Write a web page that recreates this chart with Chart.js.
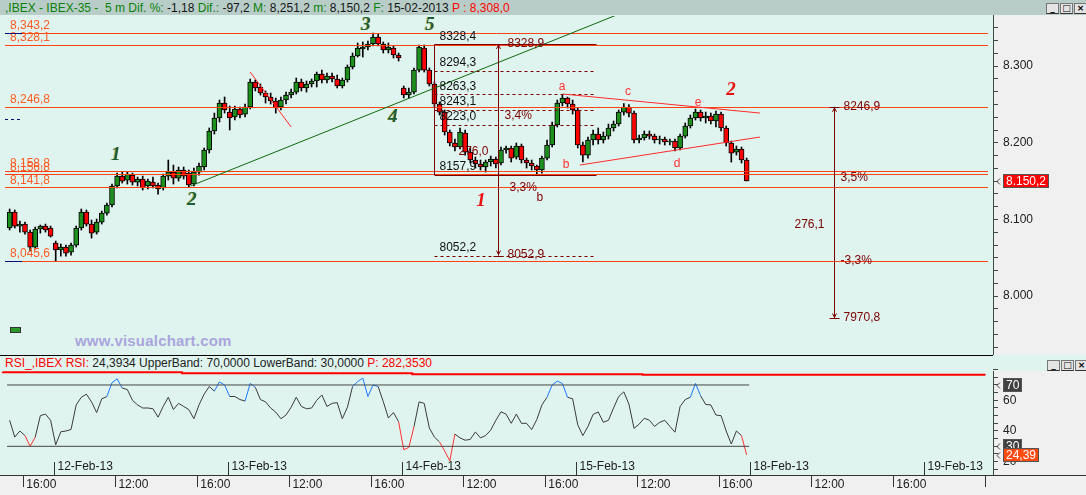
<!DOCTYPE html>
<html>
<head>
<meta charset="utf-8">
<title>IBEX-35 5m</title>
<script src="https://cdn.jsdelivr.net/npm/chart.js@4.4.1/dist/chart.umd.min.js"></script>
<style>
  html, body { margin: 0; padding: 0; }
  body {
    position: relative; width: 1086px; height: 495px; overflow: hidden;
    background: #e0f4ef;
    font-family: "Liberation Sans Narrow", "Liberation Sans", Arial, sans-serif; font-size: 12px;
  }
  .abs { position: absolute; }
  #topbar { left: 0; top: 0; width: 1086px; height: 15px; background: #b9cdc8; }
  #title { left: 5px; top: 1px; line-height: 14px; white-space: nowrap; color: #0a820a; }
  #title .v { color: #151515; }
  #title .r { color: #ff0000; }
  #mainAxisBg { left: 993px; top: 15px; width: 93px; height: 340px; background: #f0f0f0; border-left: 1px solid #3c4c48; box-sizing: border-box; }
  #sep { left: 0; top: 355px; width: 993px; height: 1px; background: #000; }
  #rsiAxisBg { left: 993px; top: 371px; width: 93px; height: 104px; background: #f0f0f0; border-left: 1px solid #3c4c48; box-sizing: border-box; }
  #timeBg { left: 0; top: 475px; width: 1086px; height: 20px; background: #f0f0f0; border-top: 1px solid #333; box-sizing: border-box; }
  #rsiTitle { left: 5px; top: 357px; line-height: 13px; white-space: nowrap; color: #222; }
  #rsiTitle .r { color: #ff0000; }
  .btns { display: flex; gap: 1px; }
  .btn { width: 11px; height: 9px; border: 1px solid #777; border-bottom-color: #333; background: #e4e4e4;
         font: bold 9px "DejaVu Sans", sans-serif; line-height: 9px; text-align: center; color: #000; }
  #watermark { left: 75px; top: 332px; color: #aba5dd; font: bold 15px "Liberation Sans", Arial, sans-serif; letter-spacing: 0.2px; }
  #icon { left: 10px; top: 327px; width: 9px; height: 4px; background: #2a9a2a; border: 1px solid #333; }
  canvas { position: absolute; left: 0; }
  #main { top: 15px; }
  #rsi { top: 356px; }
</style>
</head>
<body>
<div id="topbar" class="abs"></div>
<div id="title" class="abs">,IBEX - IBEX-35 -&nbsp; 5 m Dif. %: <span class="v">-1,18</span> Dif.: <span class="v">-97,2</span> M: <span class="v">8,251,2</span> m: <span class="v">8,150,2</span> F: <span class="v">15-02-2013</span> <span class="r">P : 8,308,0</span></div>
<div class="abs btns" style="left:1046px;top:3px"><div class="btn">_</div><div class="btn">□</div><div class="btn">×</div></div>
<div id="mainAxisBg" class="abs"></div>
<div id="sep" class="abs"></div>
<div id="rsiAxisBg" class="abs"></div>
<div id="timeBg" class="abs"></div>
<div id="rsiTitle" class="abs"><span class="r">RSI_,IBEX RSI:</span> 24,3934 UpperBand: 70,0000 LowerBand: 30,0000 <span class="r">P: 282,3530</span></div>
<div class="abs btns" style="left:1047px;top:360px"><div class="btn">_</div><div class="btn">□</div><div class="btn">×</div></div>
<div id="watermark" class="abs">www.visualchart.com</div>
<div id="icon" class="abs"></div>

<canvas id="main" width="1086" height="341"></canvas>
<canvas id="rsi" width="1086" height="139"></canvas>

<script>
// 足の位置: 12-Feb 09:00 = 0、5分ごとに +1 (1日 = 102本)
const firstCandleBar = -26;   // 11-Feb 15:15 の15分足の中心
const candleStep = 3;         // 15分足

// 15分足 OHLC (11-Feb 15:15 〜 15-Feb 17:30)
const opens = [
  8088.8, 8109.6, 8091.4, 8094.0, 8083.5, 8064.0, 8087.5, 8091.4, 8088.8, 8069.2,
  8060.1, 8064.0, 8057.4, 8066.6, 8088.8, 8109.6, 8094.0, 8083.5, 8096.6, 8108.3,
  8118.8, 8143.6, 8156.6, 8151.4, 8157.9, 8148.8, 8152.7, 8143.6, 8148.8, 8144.9,
  8141.0, 8156.6, 8161.8, 8154.0, 8164.5, 8160.5, 8146.2, 8161.8, 8168.4, 8190.6,
  8215.4, 8232.3, 8251.9, 8240.1, 8233.6, 8244.1, 8237.5, 8246.7, 8279.3, 8272.8,
  8264.9, 8259.7, 8254.5, 8246.7, 8255.8, 8262.3, 8266.2, 8279.3, 8271.5, 8276.7,
  8280.6, 8289.7, 8281.9, 8287.1, 8283.2, 8274.1, 8281.9, 8298.9, 8313.2, 8322.4,
  8325.0, 8328.9, 8338.0, 8328.9, 8321.1, 8323.7, 8314.5, 8271.5, 8262.3, 8266.2,
  8294.9, 8323.7, 8294.9, 8276.7, 8250.6, 8240.1, 8214.1, 8199.7, 8194.5, 8212.7,
  8187.9, 8177.5, 8172.3, 8168.4, 8174.9, 8178.8, 8173.6, 8190.6, 8193.2, 8181.4,
  8195.8, 8177.5, 8173.6, 8169.7, 8164.5, 8180.1, 8197.1, 8223.2, 8251.9, 8258.4,
  8250.6, 8242.8, 8197.1, 8184.0, 8203.6, 8211.4, 8203.6, 8208.8, 8219.3, 8224.5,
  8240.1, 8246.7, 8238.8, 8203.6, 8206.2, 8211.4, 8208.8, 8203.6, 8204.9, 8201.0,
  8202.3, 8193.2, 8208.8, 8221.9, 8232.3, 8240.1, 8232.3, 8234.9, 8228.4, 8237.5,
  8219.3, 8199.7, 8187.9, 8191.9, 8177.5
];
const highs = [
  8113.6, 8112.3, 8097.9, 8096.6, 8086.2, 8090.1, 8092.7, 8094.0, 8091.4, 8071.8,
  8067.9, 8066.6, 8069.2, 8091.4, 8113.6, 8112.3, 8099.2, 8100.5, 8111.0, 8121.4,
  8146.2, 8160.5, 8161.8, 8161.8, 8160.5, 8155.3, 8156.6, 8152.7, 8155.3, 8147.5,
  8159.2, 8177.5, 8171.0, 8168.4, 8168.4, 8164.5, 8167.1, 8173.6, 8193.2, 8219.3,
  8238.8, 8255.8, 8259.7, 8248.0, 8248.0, 8246.7, 8250.6, 8283.2, 8281.9, 8276.7,
  8267.6, 8264.9, 8258.4, 8259.7, 8266.2, 8270.2, 8284.5, 8283.2, 8280.6, 8283.2,
  8292.3, 8294.9, 8291.0, 8291.0, 8288.4, 8284.5, 8301.5, 8317.1, 8330.2, 8331.5,
  8332.8, 8343.2, 8341.9, 8331.5, 8330.2, 8326.3, 8317.1, 8274.1, 8271.5, 8297.6,
  8327.6, 8327.6, 8297.6, 8279.3, 8253.2, 8242.8, 8216.7, 8204.9, 8219.3, 8216.7,
  8193.2, 8181.4, 8177.5, 8177.5, 8182.7, 8181.4, 8194.5, 8195.8, 8195.8, 8199.7,
  8198.4, 8180.1, 8177.5, 8171.0, 8182.7, 8203.6, 8227.1, 8255.8, 8263.3, 8259.7,
  8255.8, 8245.4, 8201.0, 8207.5, 8216.7, 8219.3, 8214.1, 8224.5, 8228.4, 8242.8,
  8251.2, 8250.0, 8241.4, 8210.1, 8215.4, 8215.4, 8211.4, 8208.8, 8207.5, 8204.9,
  8204.9, 8211.4, 8225.8, 8236.2, 8244.1, 8242.8, 8240.1, 8238.8, 8241.4, 8240.1,
  8221.9, 8202.3, 8195.8, 8194.5, 8180.1
];
const lows = [
  8086.2, 8088.8, 8083.5, 8080.9, 8058.8, 8061.4, 8082.2, 8083.5, 8077.0, 8045.6,
  8052.2, 8052.2, 8053.5, 8064.0, 8086.2, 8091.4, 8075.7, 8080.9, 8094.0, 8105.7,
  8116.2, 8141.0, 8147.5, 8146.2, 8144.9, 8143.6, 8138.4, 8139.7, 8141.0, 8133.1,
  8138.4, 8151.4, 8146.2, 8150.1, 8152.7, 8142.3, 8143.6, 8157.9, 8164.5, 8186.6,
  8211.4, 8227.1, 8238.8, 8216.7, 8229.7, 8232.3, 8233.6, 8244.1, 8267.6, 8262.3,
  8251.9, 8250.6, 8238.8, 8242.8, 8250.6, 8258.4, 8263.6, 8267.6, 8266.2, 8272.8,
  8272.8, 8278.0, 8278.0, 8279.3, 8271.5, 8271.5, 8279.3, 8296.3, 8311.9, 8311.9,
  8321.1, 8326.3, 8326.3, 8317.1, 8317.1, 8310.6, 8306.7, 8258.4, 8258.4, 8263.6,
  8292.3, 8292.3, 8274.1, 8246.7, 8236.2, 8210.1, 8195.8, 8189.3, 8191.9, 8184.0,
  8173.6, 8167.1, 8164.5, 8161.8, 8169.7, 8167.1, 8171.0, 8186.6, 8174.9, 8178.8,
  8173.6, 8167.1, 8164.5, 8157.9, 8160.5, 8177.5, 8194.5, 8220.6, 8248.0, 8245.4,
  8237.5, 8193.2, 8174.9, 8180.1, 8197.1, 8198.4, 8199.7, 8204.9, 8215.4, 8221.9,
  8236.2, 8233.6, 8199.7, 8199.7, 8203.6, 8204.9, 8199.7, 8198.4, 8197.1, 8197.1,
  8189.3, 8190.6, 8206.2, 8219.3, 8229.7, 8228.4, 8225.8, 8224.5, 8220.6, 8215.4,
  8195.8, 8174.9, 8184.0, 8173.6, 8150.2
];
const closes = [
  8109.6, 8091.4, 8094.0, 8083.5, 8064.0, 8087.5, 8091.4, 8086.2, 8078.3, 8060.1,
  8064.0, 8056.1, 8066.6, 8088.8, 8109.6, 8094.0, 8082.2, 8096.6, 8108.3, 8118.8,
  8143.6, 8156.6, 8150.1, 8159.2, 8148.8, 8152.7, 8141.0, 8150.1, 8143.6, 8139.7,
  8156.6, 8161.8, 8154.0, 8164.5, 8156.6, 8144.9, 8161.8, 8169.7, 8190.6, 8215.4,
  8232.3, 8251.9, 8242.8, 8232.3, 8244.1, 8236.2, 8246.7, 8279.3, 8271.5, 8264.9,
  8259.7, 8254.5, 8245.4, 8255.8, 8262.3, 8266.2, 8279.3, 8271.5, 8276.7, 8280.6,
  8289.7, 8281.9, 8287.1, 8283.2, 8274.1, 8281.9, 8298.9, 8313.2, 8323.7, 8325.0,
  8328.9, 8338.0, 8328.9, 8321.1, 8325.0, 8314.5, 8310.6, 8262.3, 8266.2, 8294.9,
  8325.0, 8294.9, 8276.7, 8250.6, 8240.1, 8214.1, 8199.7, 8194.5, 8214.1, 8187.9,
  8177.5, 8172.3, 8168.4, 8174.9, 8178.8, 8172.3, 8190.6, 8193.2, 8180.1, 8195.8,
  8177.5, 8173.6, 8169.7, 8164.5, 8180.1, 8197.1, 8223.2, 8251.9, 8258.4, 8250.6,
  8242.8, 8197.1, 8184.0, 8203.6, 8211.4, 8203.6, 8208.8, 8219.3, 8224.5, 8240.1,
  8246.7, 8238.8, 8203.6, 8206.2, 8211.4, 8208.8, 8203.6, 8204.9, 8201.0, 8202.3,
  8193.2, 8208.8, 8221.9, 8232.3, 8240.1, 8232.3, 8234.9, 8228.4, 8237.5, 8219.3,
  8199.7, 8186.6, 8191.9, 8177.5, 8150.2
];

// RSI (同じ15分足の位置)
const rsiValues = [
  47, 36, 40, 37, 30, 36, 50, 51, 47, 31,
  39.5, 40, 41, 57, 62, 64, 59, 52, 61, 62.4,
  71.5, 74, 68, 67, 60, 57, 55, 55, 54.5, 49,
  56, 62, 54, 58, 56, 54, 48, 57, 64, 69,
  66, 72, 70, 62.5, 62.5, 60.5, 59.5, 71, 68.5, 60.5,
  59, 55, 52.3, 48, 50.4, 55.5, 62, 56, 54.5, 55,
  60, 63.5, 56, 58, 58.5, 48, 55.5, 69, 72.2, 74.5,
  62.5, 70, 69, 59.2, 48.5, 52, 46, 27.8, 29.3, 42.8,
  59, 58, 42, 36, 32.8, 27, 20.5, 38, 35.5, 34,
  34.5, 39.4, 35.5, 37, 40.6, 47, 52.5, 51, 45, 51,
  45, 45, 40.9, 47.5, 57, 62, 70, 72.5, 71, 62,
  61, 44, 37, 43, 50.8, 52.4, 45.7, 47, 55, 62.5,
  65.5, 57.5, 41.7, 44.5, 48.3, 47, 43, 45.6, 47, 43,
  39.2, 56, 60.5, 62, 71, 63, 57.3, 57, 50.4, 50,
  40, 31.5, 40, 37, 24.39
];
const rsiBands = [70, 30];
// RSIパネル上部の赤い段差ライン
const stepLineBars = [-30, 75, 210, 345, 480, 546];
const stepLineValues = [78.7, 78.3, 77.7, 77.0, 76.6, 76.6];

// 時間軸
const dayStartBars = [0, 102, 204, 306, 408, 510];
const dayLabels = ['12-Feb-13', '13-Feb-13', '14-Feb-13', '15-Feb-13', '18-Feb-13', '19-Feb-13'];
const hourTickBars = [-18, 36, 84, 138, 186, 240, 288, 342, 390, 444, 492, 546];
const hourTickLabels = ['16:00', '12:00', '16:00', '12:00', '16:00', '12:00', '16:00', '12:00', '16:00', '12:00', '16:00', ''];
const priceLabelTicks = [8000, 8100, 8200, 8300];
const rsiLabelTicks = [20, 40, 60];

// 水平ライン
const levelValues = [8343.2, 8328.1, 8246.8, 8163.3, 8158.8, 8141.8, 8045.6];
const levelLabels = ['8,343,2', '8,328,1', '8,246,8', '8,158,8', '8,156,8', '8,141,8', '8,045,6'];

// フィボナッチ (8328,4 → 8157,9)
const fibBars = [223, 318];
const fibHigh = 8328.4;
const fibLow = 8157.9;
const fibLevels = [8294.3, 8263.3, 8243.1, 8223.0];
const fibExtension = 8052.2;

// 値幅計測
const measures = [
  { bar: 260, from: 8328.9, to: 8052.9,
    notes: [['3,4%', 8236, 6], ['276,0', 8188, -40], ['3,3%', 8142, 11], ['b', 8128, 38]] },
  { bar: 457, from: 8246.9, to: 7970.8,
    notes: [['3,5%', 8154, 6], ['276,1', 8093, -40], ['-3,3%', 8046, 6]] }
];

// トレンドライン・三角保ち合い
const trendLine = [[80, 8143.6], [329, 8366]];
const flagLine = [[115, 8292.3], [139, 8220.6]];
const triangleUpper = [[298.4, 8263.6], [413.8, 8238.8]];
const triangleLower = [[308.3, 8171.0], [413.8, 8207.5]];
const triangleLetters = [['a', 297.8, 8272.8], ['b', 300.1, 8171.0], ['c', 336.5, 8266.2], ['d', 365.2, 8172.3], ['e', 377.5, 8251.9]];

// 波動カウント
const waveLabels = [
  ['1', 36.3, 8184, 'g'], ['2', 80.9, 8125.3, 'g'], ['3', 182.9, 8353.7, 'g'],
  ['4', 198.7, 8233.6, 'g'], ['5', 220.4, 8353.7, 'g'],
  ['1', 250.3, 8124.0, 'r'], ['2', 396.8, 8269.0, 'r']
];

const xMin = -31.65;
const xMax = 550.4;
const UI_FONT = '12px "Liberation Sans Narrow", "Liberation Sans", Arial, sans-serif';

Chart.defaults.font.family = '"Liberation Sans Narrow", "Liberation Sans", Arial, sans-serif';
Chart.defaults.font.size = 12;
Chart.defaults.color = '#202020';

const candleBar = i => firstCandleBar + i * candleStep;
const commaDec = v => v.toFixed(1).replace('.', ',');
const priceText = v => { const s = commaDec(v); return s.slice(0, 1) + '.' + s.slice(1); };

// 軸の幅を固定し、ラベル分の余白を消す
const fixAxis = (w, h) => s => {
  if (w) s.width = w;
  if (h) s.height = h;
  s.paddingTop = 0; s.paddingBottom = 0; s.paddingLeft = 0; s.paddingRight = 0;
};

function line(ctx, x1, y1, x2, y2) {
  ctx.beginPath(); ctx.moveTo(x1, y1); ctx.lineTo(x2, y2); ctx.stroke();
}
function hline(ctx, x1, x2, y) {
  const yy = Math.round(y) + 0.5;
  line(ctx, x1, yy, x2, yy);
}
function axisBox(ctx, left, y, text, bg, fg) {
  ctx.font = UI_FONT;
  const w = Math.ceil(ctx.measureText(text).width) + 5;
  const top = Math.round(y) - 7;
  ctx.fillStyle = bg;
  ctx.fillRect(left, top, w, 14);
  ctx.strokeStyle = '#555';
  ctx.lineWidth = 1;
  ctx.strokeRect(left + 0.5, top + 0.5, w - 1, 13);
  ctx.fillStyle = fg;
  ctx.textAlign = 'left';
  ctx.textBaseline = 'middle';
  ctx.fillText(text, left + 3, top + 7.5);
  // 小さな矢印
  ctx.strokeStyle = '#444';
  const yy = Math.round(y) + 0.5;
  line(ctx, left - 3, yy - 3, left - 6, yy);
  line(ctx, left - 6, yy, left - 3, yy + 3);
}

// 価格チャート上の注記
const mainNotes = {
  id: 'mainNotes',
  afterDatasetsDraw(chart) {
    const { ctx, chartArea: a } = chart;
    const X = b => chart.scales.x.getPixelForValue(b);
    const Y = v => chart.scales.y.getPixelForValue(v);
    ctx.save();
    ctx.beginPath();
    ctx.rect(a.left, a.top, a.right - a.left, a.bottom - a.top);
    ctx.clip();
    ctx.font = UI_FONT;
    ctx.textAlign = 'left';
    ctx.textBaseline = 'middle';
    ctx.lineWidth = 1;

    // 水平ライン
    levelValues.forEach((v, i) => {
      ctx.strokeStyle = '#ff4412';
      hline(ctx, a.left + 5, a.right - 5, Y(v));
      ctx.fillStyle = '#ff5a22';
      ctx.fillText(levelLabels[i], a.left + 10, Y(v) - 7);
    });
    // 左端の紺色マーク
    ctx.strokeStyle = '#00107a';
    hline(ctx, a.left + 5, a.left + 22, Y(levelValues[0]));
    hline(ctx, a.left + 5, a.left + 22, Y(levelValues[6]));
    ctx.setLineDash([3, 3]);
    hline(ctx, a.left + 5, a.left + 22, Y(8231));
    ctx.setLineDash([]);

    // トレンドライン
    ctx.strokeStyle = '#0d6a0d';
    line(ctx, X(trendLine[0][0]), Y(trendLine[0][1]), X(trendLine[1][0]), Y(trendLine[1][1]));
    ctx.strokeStyle = '#ff2a2a';
    line(ctx, X(flagLine[0][0]), Y(flagLine[0][1]), X(flagLine[1][0]), Y(flagLine[1][1]));

    // フィボナッチ
    const fx1 = Math.round(X(fibBars[0])) + 0.5, fx2 = X(fibBars[1]);
    ctx.strokeStyle = '#7a0000';
    hline(ctx, fx1, fx2, Y(fibHigh));
    hline(ctx, fx1, fx2, Y(fibLow));
    line(ctx, fx1, Y(fibHigh), fx1, Y(fibLow));
    ctx.setLineDash([3, 3]);
    fibLevels.concat([fibExtension]).forEach(v => hline(ctx, fx1, fx2, Y(v)));
    ctx.setLineDash([]);
    ctx.fillStyle = '#111';
    [fibHigh].concat(fibLevels, [fibLow, fibExtension]).forEach(v => {
      ctx.fillText(commaDec(v), fx1 + 5, Y(v) - 8);
    });

    // 値幅計測
    measures.forEach(m => {
      const mx = Math.round(X(m.bar)) + 0.5;
      const y1 = Y(m.from), y2 = Y(m.to);
      ctx.strokeStyle = '#7a0000';
      line(ctx, mx, y1, mx, y2);
      hline(ctx, mx - 5, mx + 5, y1);
      hline(ctx, mx - 5, mx + 5, y2);
      line(ctx, mx - 2, y1 + 5, mx, y1 + 1);
      line(ctx, mx + 2, y1 + 5, mx, y1 + 1);
      line(ctx, mx - 2, y2 - 5, mx, y2 - 1);
      line(ctx, mx + 2, y2 - 5, mx, y2 - 1);
      ctx.fillStyle = '#7a0000';
      ctx.fillText(commaDec(m.from), mx + 9, y1);
      ctx.fillText(commaDec(m.to), mx + 9, y2 - 1);
      m.notes.forEach(n => ctx.fillText(n[0], mx + n[2], Y(n[1])));
    });

    // 三角保ち合い
    ctx.strokeStyle = '#ff2a2a';
    line(ctx, X(triangleUpper[0][0]), Y(triangleUpper[0][1]), X(triangleUpper[1][0]), Y(triangleUpper[1][1]));
    line(ctx, X(triangleLower[0][0]), Y(triangleLower[0][1]), X(triangleLower[1][0]), Y(triangleLower[1][1]));
    ctx.fillStyle = '#ff3030';
    ctx.textAlign = 'center';
    triangleLetters.forEach(t => ctx.fillText(t[0], X(t[1]), Y(t[2])));

    // 波動カウント
    ctx.font = 'bold italic 19px "Liberation Serif", "DejaVu Serif", serif';
    waveLabels.forEach(w => {
      const wx = X(w[1]), wy = Y(w[2]);
      if (w[3] === 'g') {
        ctx.fillStyle = '#c8b040';
        ctx.fillText(w[0], wx - 1, wy);
        ctx.fillStyle = '#1b5e3e';
      } else {
        ctx.fillStyle = '#e81010';
      }
      ctx.fillText(w[0], wx, wy);
    });
    ctx.restore();
  },
  afterDraw(chart) {
    const a = chart.chartArea;
    const last = closes[closes.length - 1];
    chart.ctx.save();
    axisBox(chart.ctx, a.right + 10, chart.scales.y.getPixelForValue(last), priceText(last), '#ff0000', '#ffffff');
    chart.ctx.restore();
  }
};

// 価格の補助目盛 (100 を 6 分割)
const priceTickValues = [];
for (let k = -4; k <= 21; k++) priceTickValues.push(8000 + k * 100 / 6);

new Chart(document.getElementById('main'), {
  type: 'bar',
  data: {
    datasets: [
      {
        label: 'wick',
        data: highs.map((h, i) => ({ x: candleBar(i), y: [lows[i], h] })),
        backgroundColor: '#000',
        barThickness: 1,
        grouped: false,
        order: 2
      },
      {
        label: 'body',
        data: opens.map((o, i) => ({ x: candleBar(i), y: [o, closes[i]] })),
        backgroundColor: opens.map((o, i) => closes[i] >= o ? '#1c8f1c' : '#ff0000'),
        borderColor: '#000',
        borderWidth: 1,
        borderSkipped: false,
        barThickness: 5,
        grouped: false,
        order: 1
      }
    ]
  },
  options: {
    responsive: false,
    animation: false,
    devicePixelRatio: 1,
    layout: { padding: { top: 1, bottom: 4, left: 0, right: 0 }, autoPadding: false },
    plugins: { legend: { display: false }, tooltip: { enabled: false } },
    scales: {
      x: { type: 'linear', min: xMin, max: xMax, display: false, offset: false },
      y: {
        position: 'right',
        min: 7927.1,
        max: 8365.4,
        afterFit: fixAxis(93, 0),
        afterBuildTicks: s => { s.ticks = priceTickValues.map(v => ({ value: v })); },
        grid: { drawOnChartArea: false, tickLength: 5, tickColor: '#3c4c48' },
        border: { display: false },
        ticks: {
          autoSkip: false,
          padding: 5,
          color: '#202020',
          callback: v => priceLabelTicks.some(p => Math.abs(p - v) < 0.01) ? (v / 1000).toFixed(3) : ''
        }
      }
    }
  },
  plugins: [mainNotes]
});

// RSI パネル
const rsiNotes = {
  id: 'rsiNotes',
  afterDraw(chart) {
    const { ctx, chartArea: a } = chart;
    const xs = chart.scales.x, ys = chart.scales.y;
    ctx.save();
    ctx.font = UI_FONT;
    ctx.textAlign = 'left';
    ctx.textBaseline = 'middle';
    ctx.strokeStyle = '#333';
    ctx.fillStyle = '#202020';
    ctx.lineWidth = 1;
    dayStartBars.forEach((b, i) => {
      const dx = Math.round(xs.getPixelForValue(b)) + 0.5;
      line(ctx, dx, a.bottom - 13, dx, a.bottom);
      ctx.fillText(dayLabels[i], dx + 3, a.bottom - 8);
    });
    axisBox(ctx, a.right + 10, ys.getPixelForValue(rsiBands[0]), '70', '#404040', '#ffffff');
    axisBox(ctx, a.right + 10, ys.getPixelForValue(rsiBands[1]), '30', '#404040', '#ffffff');
    const last = rsiValues[rsiValues.length - 1];
    axisBox(ctx, a.right + 10, ys.getPixelForValue(last), last.toFixed(2).replace('.', ','), '#ff4a12', '#ffffff');
    ctx.restore();
  }
};

const bandStart = candleBar(0) - 1.5;
const bandEnd = candleBar(rsiValues.length - 1) + 1.5;

new Chart(document.getElementById('rsi'), {
  type: 'line',
  data: {
    datasets: [
      {
        label: 'P',
        data: stepLineBars.map((b, i) => ({ x: b, y: stepLineValues[i] })),
        borderColor: '#ff0000',
        borderWidth: 2,
        stepped: 'after',
        pointRadius: 0
      },
      ...rsiBands.map(v => ({
        label: 'band ' + v,
        data: [{ x: bandStart, y: v }, { x: bandEnd, y: v }],
        borderColor: '#454545',
        borderWidth: 1,
        pointRadius: 0
      })),
      {
        label: 'RSI',
        data: rsiValues.map((v, i) => ({ x: candleBar(i), y: v })),
        borderColor: '#3a3a3a',
        borderWidth: 1,
        pointRadius: 0,
        tension: 0,
        segment: {
          borderColor: c => {
            const hi = Math.max(c.p0.parsed.y, c.p1.parsed.y);
            const lo = Math.min(c.p0.parsed.y, c.p1.parsed.y);
            if (hi >= rsiBands[0]) return '#1a78ff';
            if (lo <= rsiBands[1]) return '#ff3030';
            return '#3a3a3a';
          }
        }
      }
    ]
  },
  options: {
    responsive: false,
    animation: false,
    devicePixelRatio: 1,
    layout: { padding: 0, autoPadding: false },
    plugins: { legend: { display: false }, tooltip: { enabled: false } },
    scales: {
      x: {
        type: 'linear',
        min: xMin,
        max: xMax,
        offset: false,
        afterFit: fixAxis(0, 20),
        afterBuildTicks: s => { s.ticks = hourTickBars.map(v => ({ value: v })); },
        grid: { drawOnChartArea: false, tickLength: 12, tickColor: '#333' },
        border: { display: false },
        ticks: {
          autoSkip: false,
          maxRotation: 0,
          align: 'start',
          labelOffset: 3,
          padding: -10,
          color: '#202020',
          callback: (v, i) => hourTickLabels[i]
        }
      },
      y: {
        position: 'right',
        min: 11.3,
        max: 88.9,
        afterFit: fixAxis(93, 0),
        afterBuildTicks: s => {
          const t = [];
          for (let v = 15; v <= 80; v += 5) t.push({ value: v });
          s.ticks = t;
        },
        grid: { drawOnChartArea: false, tickLength: 5, tickColor: '#3c4c48' },
        border: { display: false },
        ticks: {
          autoSkip: false,
          padding: 5,
          color: '#202020',
          callback: v => rsiLabelTicks.includes(v) ? String(v) : ''
        }
      }
    }
  },
  plugins: [rsiNotes]
});
</script>
</body>
</html>
